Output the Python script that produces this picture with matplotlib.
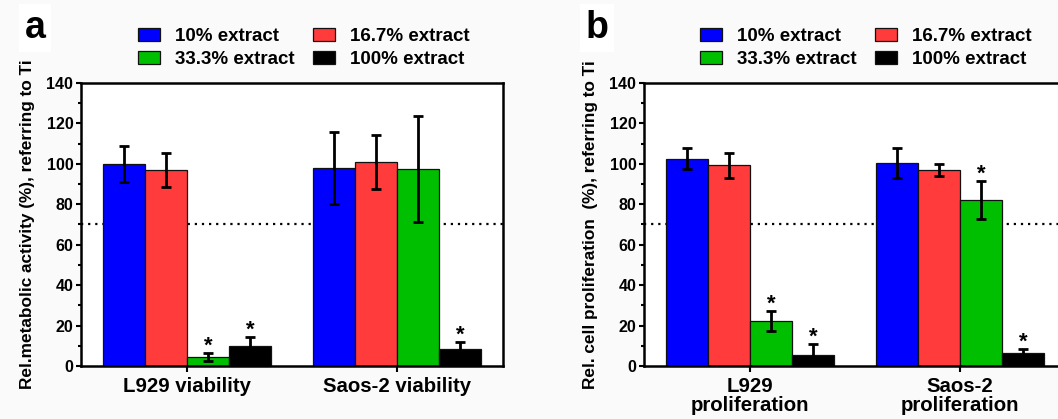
import matplotlib
matplotlib.use("Agg")
import matplotlib.pyplot as plt
from matplotlib.patches import Patch
import numpy as np

plt.rcParams['font.family'] = ['Liberation Sans', 'DejaVu Sans']
plt.rcParams['font.weight'] = 'bold'

# ---- data ----
series = ['10% extract', '16.7% extract', '33.3% extract', '100% extract']
colors = ['#0000ff', '#ff3b3b', '#00bf00', '#000000']

cats_a = ['L929 viability', 'Saos-2 viability']
vals_a = [[100.0, 98.0], [97.0, 101.0], [4.4, 97.5], [10.0, 8.3]]
errs_a = [[9.0, 17.8], [8.6, 13.5], [2.1, 26.3], [4.4, 3.6]]
sig_a = [[False, False], [False, False], [True, False], [True, True]]
ylabel_a = 'Rel.metabolic activity (%), referring to Ti'

cats_b = ['L929\nproliferation', 'Saos-2\nproliferation']
vals_b = [[102.5, 100.4], [99.2, 96.9], [22.4, 82.1], [5.6, 6.6]]
errs_b = [[5.1, 7.6], [6.1, 2.9], [5.0, 9.3], [5.1, 1.8]]
sig_b = [[False, False], [False, False], [True, True], [True, True]]
ylabel_b = 'Rel. cell proliferation  (%), referring to Ti'

threshold = 70
yticks = [0, 20, 40, 60, 80, 100, 120, 140]

W, H = 1058, 419
fig = plt.figure(figsize=(W / 100, H / 100), dpi=100, facecolor='#fafafa')


def draw(ax_rect, cats, vals, errs, sigs, ylabel, letter, letter_x, leg_x):
    ax = fig.add_axes(ax_rect)
    ax.set_facecolor('white')
    x = np.arange(len(cats))
    bw = 0.2
    ax.axhline(threshold, color='black', lw=1.6, ls=(0, (1, 2.2)), zorder=1)
    for i in range(4):
        xs = x + (i - 1.5) * bw
        ax.bar(xs, vals[i], width=bw, color=colors[i], edgecolor='#111111',
               linewidth=0.9, zorder=2)
        ax.errorbar(xs, vals[i], yerr=errs[i], fmt='none', ecolor='black',
                    elinewidth=2.0, capsize=3.6, capthick=2.0, zorder=3)
        for j in range(len(cats)):
            if sigs[i][j]:
                ax.text(xs[j], vals[i][j] + errs[i][j] + 0.6, '*', ha='center',
                        va='baseline', fontsize=16, fontweight='bold', zorder=4)
    ax.set_xlim(-0.505, 1.505)
    ax.set_ylim(0, 140)
    ax.set_yticks(yticks)
    ax.set_yticks(np.arange(10, 140, 20), minor=True)
    ax.set_xticks(x)
    ax.set_xticklabels(cats, fontsize=14.7, fontweight='bold', linespacing=1.0)
    ax.tick_params(axis='y', which='major', labelsize=11.5, length=3.5, width=1.5, pad=2)
    ax.tick_params(axis='y', which='minor', length=2.2, width=1.5)
    ax.tick_params(axis='x', which='major', length=4, width=1.5, pad=4)
    for lab in ax.get_yticklabels():
        lab.set_fontweight('bold')
    for s in ax.spines.values():
        s.set_linewidth(1.8)
    ax.set_ylabel(ylabel, fontsize=12.4, fontweight='bold', labelpad=8)
    fig.text(letter_x / W, 1 - 38 / H, letter, fontsize=27, fontweight='bold',
             ha='center', va='baseline',
             bbox=dict(boxstyle='square,pad=0.15', fc='white', ec='none'))
    handles = [Patch(facecolor=c, edgecolor='#111111', linewidth=0.9) for c in colors]
    # legend fills column-wise: reorder so rows read 10%,16.7% / 33.3%,100%
    order = [0, 2, 1, 3]
    ax.legend([handles[k] for k in order], [series[k] for k in order],
              ncols=2, loc='center left',
              bbox_to_anchor=(leg_x / W, 1 - 48 / H),
              bbox_transform=fig.transFigure, frameon=False,
              prop={'size': 13.5, 'weight': 'bold'},
              handlelength=1.17, handleheight=0.7, handletextpad=0.8,
              columnspacing=1.0, labelspacing=0.35, borderpad=0,
              borderaxespad=0)
    return ax


draw([81 / W, 1 - 366 / H, 422 / W, 283 / H], cats_a, vals_a, errs_a, sig_a,
     ylabel_a, 'a', 35, 138)
draw([644 / W, 1 - 366 / H, 422 / W, 283 / H], cats_b, vals_b, errs_b, sig_b,
     ylabel_b, 'b', 597, 700)

fig.savefig('out.png', dpi=100, facecolor=fig.get_facecolor())
